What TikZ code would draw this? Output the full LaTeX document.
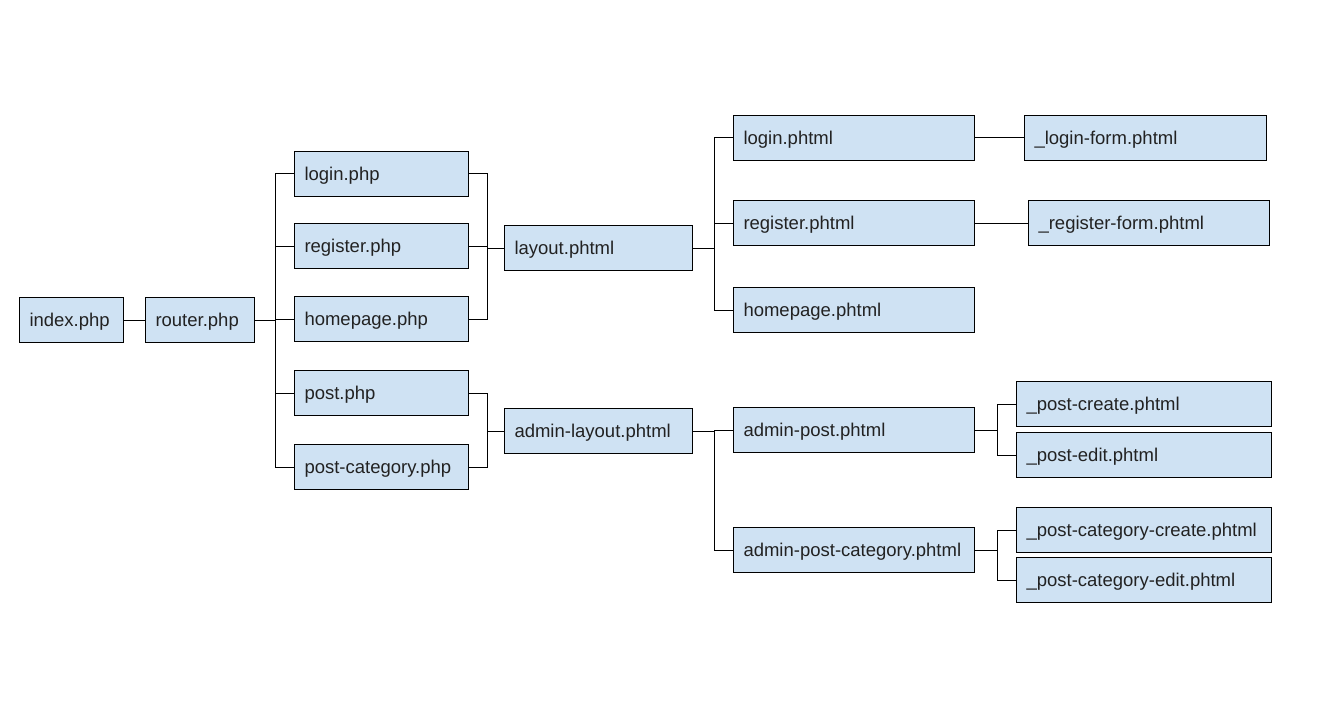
\documentclass[tikz,border=0pt]{standalone}
\usepackage{fontspec}
\setmainfont{Liberation Sans}
\definecolor{boxfill}{HTML}{CFE2F3}
\definecolor{txt}{HTML}{222222}
\tikzset{
  fbox/.style={draw=black, line width=1pt, fill=boxfill, rectangle, anchor=north west,
    minimum height=45pt, inner xsep=10pt, inner ysep=0pt, align=left,
    text height=15pt, text depth=2pt,
    font=\fontsize{18.5}{21}\selectfont, text=txt},
  conn/.style={draw=black, line width=1pt}
}
\begin{document}
\begin{tikzpicture}[x=1pt,y=-1pt]
\useasboundingbox (0,0) rectangle (1321,714);
% column 1
\node[fbox, minimum width=104pt, text width=84pt] (index) at (19,297) {index.php};
\node[fbox, minimum width=109pt, text width=89pt] (router) at (145,297) {router.php};
% php
\node[fbox, minimum width=174pt, text width=154pt] (login) at (294,151) {login.php};
\node[fbox, minimum width=174pt, text width=154pt] (register) at (294,223) {register.php};
\node[fbox, minimum width=174pt, text width=154pt] (homepage) at (294,296) {homepage.php};
\node[fbox, minimum width=174pt, text width=154pt] (post) at (294,370) {post.php};
\node[fbox, minimum width=174pt, text width=154pt] (postcat) at (294,444) {post-category.php};
% layouts
\node[fbox, minimum width=188pt, text width=168pt] (layout) at (504,225) {layout.phtml};
\node[fbox, minimum width=188pt, text width=168pt] (adminlayout) at (504,408) {admin-layout.phtml};
% phtml
\node[fbox, minimum width=241pt, text width=221pt] (loginh) at (733,115) {login.phtml};
\node[fbox, minimum width=241pt, text width=221pt] (registerh) at (733,200) {register.phtml};
\node[fbox, minimum width=241pt, text width=221pt] (homepageh) at (733,287) {homepage.phtml};
\node[fbox, minimum width=241pt, text width=221pt] (adminpost) at (733,407) {admin-post.phtml};
\node[fbox, minimum width=241pt, text width=221pt] (adminpostcat) at (733,527) {admin-post-category.phtml};
% partials
\node[fbox, minimum width=242pt, text width=222pt] (loginform) at (1024,115) {\_login-form.phtml};
\node[fbox, minimum width=241pt, text width=221pt] (registerform) at (1028,200) {\_register-form.phtml};
\node[fbox, minimum width=255pt, text width=235pt] (postcreate) at (1016,381) {\_post-create.phtml};
\node[fbox, minimum width=255pt, text width=235pt] (postedit) at (1016,432) {\_post-edit.phtml};
\node[fbox, minimum width=255pt, text width=235pt] (pccreate) at (1016,507) {\_post-category-create.phtml};
\node[fbox, minimum width=255pt, text width=235pt] (pcedit) at (1016,557) {\_post-category-edit.phtml};
% connectors
\draw[conn] (index.east) -- (router.west);
\foreach \t in {login,register,homepage,post,postcat}
  \draw[conn] (router.east) -- ++(20,0) |- (\t.west);
\foreach \t in {login,register,homepage}
  \draw[conn] (layout.west) -- ++(-17,0) |- (\t.east);
\foreach \t in {post,postcat}
  \draw[conn] (adminlayout.west) -- ++(-17,0) |- (\t.east);
\foreach \t in {loginh,registerh,homepageh}
  \draw[conn] (layout.east) -- ++(21,0) |- (\t.west);
\foreach \t in {adminpost,adminpostcat}
  \draw[conn] (adminlayout.east) -- ++(21,0) |- (\t.west);
\draw[conn] (loginh.east) -- (loginform.west);
\draw[conn] (registerh.east) -- (registerform.west);
\foreach \t in {postcreate,postedit}
  \draw[conn] (adminpost.east) -- ++(22,0) |- (\t.west);
\foreach \t in {pccreate,pcedit}
  \draw[conn] (adminpostcat.east) -- ++(22,0) |- (\t.west);
\end{tikzpicture}
\end{document}
